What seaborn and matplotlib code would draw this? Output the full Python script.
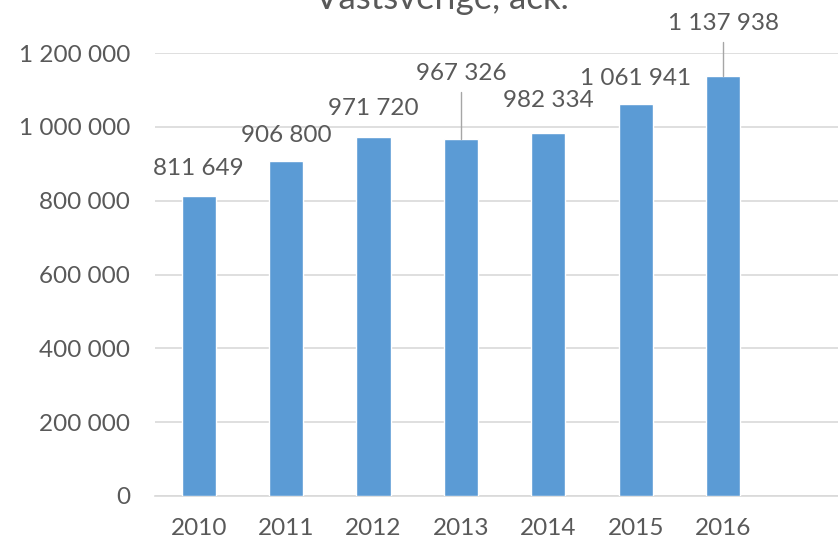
import matplotlib
matplotlib.use("Agg")
import seaborn as sns
import matplotlib.pyplot as plt
import pandas as pd

years = ["2010", "2011", "2012", "2013", "2014", "2015", "2016"]
values = [811649, 906800, 971720, 967326, 982334, 1061941, 1137938]
title = "Västsverige, ack."

# label lift above bar top, in y units (2013 and 2016 have leader lines)
lift = [75000, 69000, 77000, 176000, 88000, 68000, 143000]
leader = [False, False, False, True, False, False, True]

sns.set_style("white")
plt.rcParams["font.family"] = ["Lato", "DejaVu Sans"]

txt = "#595959"
fs = 17.5
df = pd.DataFrame({"year": years, "value": values})

fig = plt.figure(figsize=(8.38, 5.44), dpi=100)
ax = fig.add_axes([155 / 838, 1 - 496 / 544, 683 / 838, (496 - 53) / 544])

sns.barplot(data=df, x="year", y="value", color="#5B9BD5", saturation=1,
            width=0.39, ax=ax, zorder=3)

ax.set_ylim(0, 1200000)
ax.set_xlim(-0.5, -0.5 + 683 / 87.4)
ax.set_yticks(range(0, 1200001, 200000))
ax.set_yticklabels([f"{v:,}".replace(",", " ") for v in range(0, 1200001, 200000)])
ax.yaxis.grid(True, color="#D9D9D9", linewidth=1.2, zorder=0)
for s in ax.spines.values():
    s.set_visible(False)
ax.spines["bottom"].set_visible(True)
ax.spines["bottom"].set_color("#D9D9D9")
ax.spines["bottom"].set_linewidth(1.2)
ax.tick_params(axis="both", length=0, labelsize=fs, colors=txt)
ax.tick_params(axis="y", pad=18)
ax.tick_params(axis="x", pad=16)
ax.set_xlabel("")
ax.set_ylabel("")

for i, v in enumerate(values):
    ly = v + lift[i]
    ax.text(i, ly, f"{v:,}".replace(",", " "), ha="center", va="center",
            fontsize=fs, color=txt, clip_on=False)
    if leader[i]:
        ax.plot([i, i], [v, ly - 50000], color="#A6A6A6", linewidth=1,
                clip_on=False, zorder=4)

fig.text(442 / 838, 1 + 1 / 544, title, ha="center", va="center",
         fontsize=25, color=txt)

fig.savefig("out.png", dpi=100)
